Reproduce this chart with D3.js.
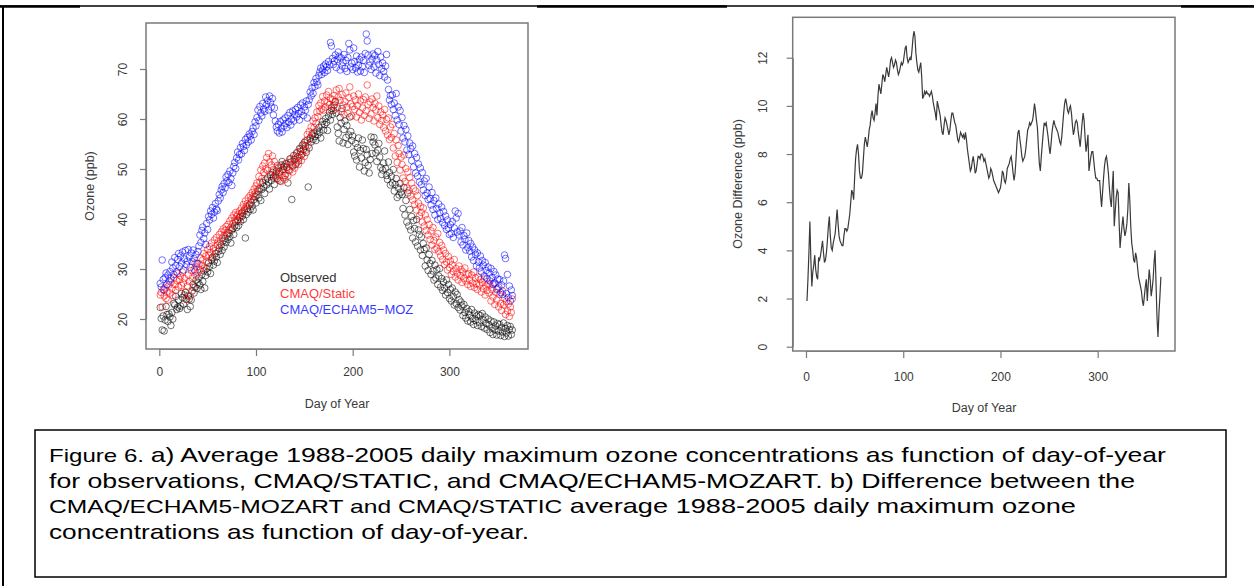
<!DOCTYPE html>
<html>
<head>
<meta charset="utf-8">
<script src="https://cdn.jsdelivr.net/npm/d3@7"></script>
<style>
body { margin: 0; background: #fff; }
svg text { font-family: "Liberation Sans", Arial, sans-serif; }
</style>
</head>
<body>
<div id="fig"></div>
<script>
// daily values, day 1..365
var observed = [
  22.3, 20.1, 17.8, 20.6, 17.6, 19.8, 22.5, 20.9, 19.5, 21.0,
  20.4, 18.7, 21.3, 20.0, 23.1, 22.8, 24.5, 21.9, 22.4, 23.8,
  22.1, 22.6, 25.1, 24.3, 23.0, 24.8, 25.3, 23.9, 21.9, 24.6,
  24.0, 22.5, 23.8, 25.6, 26.9, 25.2, 26.4, 27.8, 26.1, 27.3,
  28.2, 26.8, 25.9, 28.9, 27.5, 29.6, 26.2, 28.7, 30.1, 29.4,
  31.2, 30.5, 29.1, 31.8, 32.3, 30.8, 31.6, 33.1, 32.4, 31.3,
  33.5, 34.2, 32.9, 34.8, 33.7, 35.6, 34.4, 36.1, 35.3, 36.8,
  35.9, 37.2, 36.5, 35.2, 37.8, 38.1, 36.9, 38.6, 39.4, 38.3,
  39.8, 38.7, 40.3, 39.5, 41.2, 40.6, 39.9, 41.6, 36.2, 40.9,
  42.1, 41.4, 42.8, 41.9, 43.3, 42.6, 41.8, 43.9, 44.5, 43.2,
  44.8, 45.6, 44.2, 46.1, 43.7, 45.9, 47.3, 46.5, 45.1, 47.8,
  46.8, 48.2, 47.4, 46.0, 48.9, 47.7, 49.3, 48.4, 46.9, 48.8,
  49.6, 48.1, 50.2, 49.4, 47.6, 50.8, 51.5, 49.9, 50.5, 48.7,
  51.1, 50.3, 47.2, 49.8, 52.0, 51.4, 43.9, 50.6, 52.7, 51.9,
  50.9, 53.2, 52.4, 51.6, 54.1, 53.5, 52.8, 54.8, 53.9, 55.3,
  54.6, 53.3, 55.8, 46.4, 54.2, 56.1, 55.4, 56.8, 55.9, 57.2,
  56.5, 55.7, 57.6, 56.9, 58.3, 57.4, 56.2, 58.8, 59.5, 57.8,
  58.9, 60.1, 59.3, 57.7, 60.6, 61.4, 59.8, 62.2, 60.9, 61.7,
  62.8, 63.5, 61.2, 58.4, 57.1, 55.6, 60.3, 59.2, 62.1, 55.2,
  57.9, 59.6, 56.3, 58.7, 54.9, 56.8, 60.4, 57.5, 55.7, 56.6,
  53.4, 52.6, 55.1, 51.8, 54.3, 56.2, 50.4, 53.7, 52.2, 55.8,
  54.1, 49.6, 51.3, 53.9, 52.8, 50.7, 49.2, 51.9, 56.4, 53.1,
  55.4, 56.3, 54.8, 53.2, 51.5, 53.8, 55.1, 52.4, 50.3, 48.9,
  49.8, 51.2, 53.6, 50.1, 48.7, 47.9, 51.4, 49.3, 46.8, 48.5,
  47.2, 49.9, 45.6, 46.9, 48.1, 44.3, 46.2, 44.8, 47.1, 45.4,
  44.9, 42.1, 46.3, 40.8, 43.7, 39.4, 45.2, 38.6, 41.9, 37.8,
  40.5, 36.2, 39.7, 38.1, 35.4, 39.9, 34.6, 37.8, 36.9, 33.8,
  36.4, 32.7, 35.1, 33.9, 30.6, 34.2, 31.8, 29.7, 32.9, 31.1,
  28.9, 31.7, 29.6, 27.8, 30.8, 28.2, 29.9, 26.9, 28.6, 30.1,
  26.4, 28.1, 25.7, 27.4, 26.2, 24.8, 27.8, 25.3, 26.9, 24.1,
  25.9, 23.6, 26.2, 24.5, 22.8, 25.4, 23.1, 24.9, 22.3, 23.9,
  21.8, 23.4, 22.6, 20.7, 22.9, 21.3, 20.2, 22.1, 19.6, 21.5,
  20.8, 19.4, 21.9, 20.1, 18.9, 21.2, 19.7, 20.6, 18.7, 20.9,
  19.3, 20.7, 18.5, 21.1, 19.8, 18.2, 20.4, 19.1, 17.9, 20.0,
  18.8, 17.3, 19.6, 18.2, 16.9, 19.4, 17.8, 18.6, 16.8, 19.1,
  17.6, 18.9, 16.7, 18.3, 17.4, 19.2, 16.5, 18.1, 17.2, 18.7,
  16.6, 17.9, 18.5, 16.9, 17.8
];

var cmaqStatic = [
  24.8, 25.3, 22.4, 25.9, 24.6, 26.2, 24.1, 25.5, 23.8, 26.8,
  25.2, 27.4, 26.1, 24.7, 28.3, 26.9, 25.8, 27.7, 29.1, 26.4,
  27.9, 28.6, 26.7, 29.4, 27.2, 28.1, 25.4, 23.9, 26.6, 28.8,
  27.5, 24.6, 29.7, 28.2, 26.3, 29.9, 31.2, 28.7, 30.4, 29.3,
  31.0, 29.8, 32.2, 30.7, 31.8, 33.1, 30.2, 32.6, 31.4, 33.9,
  32.8, 34.5, 33.3, 35.2, 32.4, 34.1, 35.8, 33.7, 36.3, 34.8,
  35.5, 36.9, 35.1, 37.4, 36.2, 38.0, 36.7, 37.7, 38.5, 37.2,
  38.9, 37.9, 39.6, 38.3, 40.2, 39.1, 40.8, 39.8, 41.3, 40.5,
  40.9, 39.7, 41.6, 40.5, 42.2, 41.3, 42.9, 41.9, 43.6, 42.5,
  43.1, 44.2, 42.8, 44.7, 43.9, 45.3, 44.5, 46.0, 45.1, 46.6,
  47.2, 46.0, 48.5, 47.4, 49.8, 48.1, 50.6, 49.3, 51.2, 50.0,
  52.3, 49.7, 53.1, 51.4, 48.6, 50.8, 52.6, 49.9, 51.5, 48.4,
  49.2, 50.7, 47.8, 48.9, 50.2, 47.5, 49.6, 48.3, 50.9, 47.9,
  49.1, 50.4, 48.6, 51.3, 49.7, 52.1, 50.8, 49.4, 51.9, 50.2,
  52.6, 51.2, 53.4, 50.9, 52.3, 54.0, 51.7, 53.1, 54.8, 52.5,
  55.6, 53.8, 56.9, 54.7, 57.5, 56.2, 58.4, 57.1, 59.6, 58.3,
  60.2, 59.1, 61.4, 60.5, 62.7, 61.6, 63.2, 62.0, 64.5, 61.8,
  63.6, 62.4, 64.8, 63.3, 65.5, 62.9, 64.1, 61.7, 63.9, 62.6,
  64.7, 63.4, 65.8, 62.2, 64.4, 66.1, 63.7, 61.5, 64.9, 62.8,
  60.9, 63.5, 65.2, 62.4, 61.1, 64.3, 66.4, 63.0, 60.6, 62.5,
  64.6, 61.9, 63.8, 60.4, 62.7, 65.0, 61.3, 63.6, 59.8, 62.2,
  63.9, 60.7, 64.4, 61.6, 66.8, 62.9, 60.1, 63.4, 61.0, 64.0,
  62.3, 59.6, 63.1, 61.8, 64.6, 60.3, 62.6, 58.9, 61.4, 59.7,
  60.8, 58.3, 61.9, 57.6, 59.9, 56.8, 60.2, 55.9, 58.4, 56.3,
  58.9, 54.2, 57.1, 52.6, 55.8, 51.3, 54.7, 53.1, 49.8, 52.4,
  50.9, 48.2, 52.8, 47.5, 50.1, 46.2, 49.4, 45.7, 48.3, 44.6,
  47.2, 43.8, 46.1, 42.9, 45.6, 41.8, 44.7, 43.2, 40.6, 42.5,
  41.3, 39.4, 42.2, 38.6, 40.8, 37.7, 39.9, 36.8, 38.9, 35.9,
  37.6, 34.8, 38.3, 35.7, 33.9, 36.4, 34.2, 37.1, 33.5, 35.3,
  32.6, 34.7, 31.9, 33.8, 30.9, 33.1, 31.4, 29.8, 32.5, 30.3,
  31.6, 28.9, 30.8, 29.5, 31.9, 28.4, 30.1, 29.2, 27.8, 30.6,
  28.7, 29.9, 27.3, 29.4, 28.1, 30.2, 27.6, 28.9, 26.9, 29.1,
  27.8, 26.5, 28.8, 27.2, 29.4, 26.3, 28.2, 27.0, 25.9, 28.4,
  26.8, 27.9, 25.4, 27.3, 26.1, 28.0, 24.8, 26.6, 25.7, 27.1,
  25.2, 26.8, 23.6, 25.9, 24.4, 27.2, 22.9, 25.3, 23.8, 26.1,
  22.4, 24.9, 23.1, 21.7, 25.6, 22.8, 24.2, 20.9, 23.5, 21.6,
  23.0, 20.5, 22.4, 21.3, 24.0
];

var cmaqEcham = [
  27.1, 26.4, 31.8, 27.9, 25.8, 28.3, 29.2, 26.9, 28.8, 27.6,
  29.5, 28.1, 31.4, 30.2, 28.9, 32.3, 30.7, 29.4, 31.9, 33.1,
  30.5, 32.6, 31.2, 33.4, 29.8, 32.0, 33.7, 30.9, 31.6, 33.9,
  32.4, 30.3, 33.2, 31.5, 33.8, 32.1, 29.6, 32.9, 31.1, 33.5,
  34.6, 36.8, 35.3, 37.7, 38.4, 36.1, 37.2, 34.9, 39.1, 37.9,
  40.5, 39.8, 41.6, 40.9, 42.3, 40.2, 41.4, 43.1, 42.0, 41.7,
  43.6, 44.9, 44.2, 45.8, 46.5, 45.3, 47.1, 46.2, 48.4, 47.6,
  48.9, 47.3, 49.6, 48.1, 46.7, 49.2, 50.5, 51.3, 50.1, 52.2,
  53.4, 51.8, 52.9, 54.3, 53.0, 55.1, 54.5, 53.7, 55.9, 54.8,
  56.3, 55.4, 57.0, 56.6, 55.8, 57.5, 58.2, 56.9, 59.4, 58.6,
  60.3, 61.8, 59.7, 62.5, 61.2, 60.6, 63.1, 62.0, 61.5, 64.4,
  62.9, 63.7, 61.8, 64.6, 63.3, 62.4, 64.1, 60.8, 62.2, 59.6,
  58.4, 57.6, 58.9, 57.2, 59.5, 58.1, 57.4, 59.8, 58.6, 60.2,
  59.1, 58.3, 60.7, 59.4, 61.3, 58.8, 60.0, 61.6, 59.6, 60.9,
  61.9, 60.4, 62.3, 61.1, 59.8, 62.8, 61.5, 63.2, 60.7, 62.4,
  61.7, 63.6, 60.2, 62.9, 63.8, 65.4, 64.6, 66.2, 65.1, 67.3,
  66.5, 68.1, 67.4, 66.8, 68.7, 69.4, 70.2, 68.9, 69.8, 70.6,
  69.3, 71.0, 70.4, 69.7, 71.5, 70.8, 75.3, 74.6, 72.1, 70.9,
  71.6, 72.8, 70.3, 71.9, 73.4, 72.5, 69.8, 72.2, 70.6, 71.3,
  72.9, 70.1, 71.7, 69.5, 72.3, 75.1, 73.8, 70.4, 71.2, 69.9,
  74.2, 71.5, 70.2, 72.6, 69.4, 70.8, 71.9, 69.6, 72.4, 70.5,
  71.7, 69.3, 73.1, 77.0, 75.6, 72.8, 70.7, 71.4, 69.9, 72.0,
  73.0, 70.4, 72.7, 69.2, 71.8, 73.5, 70.9, 68.7, 72.4, 70.1,
  71.2, 69.5, 68.4, 70.6, 72.9, 67.8, 65.9, 63.8, 64.7, 62.9,
  64.8, 61.9, 63.2, 60.7, 65.1, 59.8, 62.4, 58.9, 61.7, 57.6,
  60.3, 56.2, 58.7, 55.4, 57.9, 53.8, 56.6, 52.9, 55.2, 54.1,
  51.7, 54.6, 50.4, 53.1, 49.2, 52.3, 48.6, 51.0, 47.4, 50.2,
  46.9, 49.3, 45.8, 47.6, 44.7, 48.1, 45.2, 43.9, 46.4, 44.1,
  42.8, 45.3, 41.9, 43.7, 40.8, 44.2, 42.1, 39.9, 43.0, 41.2,
  40.1, 42.4, 39.3, 41.5, 38.7, 40.6, 37.9, 39.8, 38.2, 36.9,
  38.9, 37.1, 39.5, 36.3, 38.2, 41.6, 40.2, 37.4, 41.1, 36.8,
  37.6, 35.4, 38.3, 34.8, 36.7, 35.9, 33.8, 37.2, 34.3, 35.7,
  33.6, 35.1, 32.4, 34.4, 31.7, 33.8, 32.9, 30.6, 33.2, 31.4,
  30.2, 32.6, 29.4, 31.7, 30.8, 28.6, 31.3, 29.7, 28.1, 30.4,
  29.2, 27.6, 30.1, 28.3, 26.9, 29.5, 27.2, 28.8, 25.9, 28.0,
  26.4, 27.9, 25.3, 26.8, 24.9, 27.6, 32.8, 32.1, 25.1, 28.9,
  24.3, 26.6, 23.6, 25.8, 24.7
];

var ozoneDiff = [
  1.9, 2.8, 3.9, 5.2, 3.6, 2.5, 3.1, 3.4, 3.8, 3.2,
  2.9, 2.8, 3.7, 3.6, 3.8, 4.1, 4.4, 3.9, 3.5, 3.6,
  3.9, 4.4, 5.0, 5.4, 4.6, 4.1, 4.0, 4.3, 4.5, 4.7,
  5.2, 5.7, 5.1, 4.6, 4.4, 4.3, 4.2, 4.2, 4.6, 4.9,
  4.9, 4.8, 4.9, 5.2, 5.5, 6.0, 6.5, 6.4, 6.1, 7.0,
  7.8, 8.2, 8.4, 8.0, 7.3, 7.0, 7.0, 7.2, 7.8, 8.4,
  8.7, 8.5, 8.3, 8.6, 9.0, 9.2, 9.6, 9.8, 9.5, 9.4,
  9.7, 10.1, 9.6, 10.4, 10.9, 10.7, 10.5, 10.9, 11.3, 11.2,
  11.0, 11.3, 11.6, 11.4, 11.2, 11.5, 11.9, 12.0, 11.8, 11.6,
  11.7, 11.9, 11.8, 11.5, 11.3, 11.4, 11.6, 11.8, 11.7, 11.8,
  12.1, 12.4, 12.5, 12.0, 11.8, 11.9, 12.0, 11.9, 12.3, 12.8,
  13.1, 12.9, 12.2, 11.8, 11.5, 11.4, 11.6, 11.8, 11.2, 10.3,
  10.4, 10.6, 10.5, 10.6, 10.5, 10.5, 10.4, 10.5, 10.6, 10.4,
  10.1, 9.9, 9.7, 9.4, 10.2, 10.0, 9.8, 9.6, 9.2, 8.9,
  8.8, 9.2, 9.5, 9.4, 9.2, 9.0, 8.8, 9.0, 9.4, 9.7,
  9.7, 9.5, 9.3, 9.2, 8.9, 8.6, 8.5, 8.7, 8.9, 8.8,
  8.7, 8.8, 8.6, 8.9, 8.6, 8.2, 7.9, 7.6, 7.3, 7.4,
  7.7, 7.9, 7.6, 7.2, 7.3, 7.6, 7.9, 7.9, 7.8, 8.0,
  8.0, 7.9, 7.7, 7.8, 7.6, 7.4, 7.2, 7.0, 7.1, 7.4,
  7.3, 7.1, 6.9, 6.8, 6.7, 6.6, 6.5, 6.4, 6.5, 6.6,
  6.9, 7.3, 7.2, 6.9, 6.8, 7.0, 7.4, 7.5, 7.6, 7.8,
  7.9, 7.6, 7.2, 6.9, 7.2, 7.8, 8.5, 8.9, 9.0, 8.6,
  8.3, 7.9, 7.7, 7.8, 7.9, 8.2, 8.6, 9.0, 9.1, 9.3,
  9.2, 9.3, 9.4, 9.7, 10.1, 9.8, 9.4, 9.1, 8.3, 7.6,
  7.3, 7.9, 8.4, 8.9, 9.3, 9.2, 9.3, 9.0, 8.7, 8.3,
  8.0, 8.4, 8.9, 9.2, 9.4, 9.2, 9.1, 9.0, 8.9, 8.7,
  8.5, 8.4, 8.7, 9.2, 9.7, 10.1, 10.3, 10.1, 9.8, 9.7,
  9.9, 10.0, 9.7, 9.2, 8.8, 9.0, 9.3, 9.4, 9.3, 8.9,
  8.6, 8.3, 8.8, 9.3, 9.7, 9.4, 8.7, 8.1, 8.4, 8.8,
  7.3, 7.6, 7.9, 8.1, 8.1, 7.7, 7.3, 7.0, 7.0, 6.9,
  6.9, 6.9, 6.3, 5.8, 6.4, 7.0, 7.5, 7.8, 7.9, 7.6,
  7.2, 6.6, 6.1, 5.8, 6.6, 7.3, 5.0, 5.6, 6.2, 6.5,
  6.4, 5.2, 4.1, 4.6, 5.0, 5.4, 4.9, 4.6, 4.8, 5.1,
  5.7, 6.8, 6.1, 5.0, 4.3, 4.0, 3.6, 3.5, 3.9, 3.7,
  3.3, 2.9, 2.7, 2.5, 2.3, 1.9, 1.7, 2.1, 2.5, 2.8,
  1.9, 2.6, 3.2, 2.8, 2.1, 2.4, 2.8, 3.5, 4.0, 2.6,
  1.2, 0.4, 1.4, 2.1, 2.9
];

var dayTicks = [0, 100, 200, 300];
var ozoneTicks = [20, 30, 40, 50, 60, 70];
var diffTicks = [0, 2, 4, 6, 8, 10, 12];
var legendLabels = ["Observed", "CMAQ/Static", "CMAQ/ECHAM5\u2212MOZ"];
var seriesColors = ["#000000", "#ff0000", "#0000ff"];
var captionLines = [
  [["Figure 6. ", 19], ["a) Average 1988-2005 daily maximum ozone concentrations as function of day-of-year", 21]],
  [["for observations, CMAQ/STATIC, and CMAQ/ECHAM5-MOZART. b) Difference between the", 21]],
  [["CMAQ/ECHAM5-MOZART", 19], [" and ", 19], ["CMAQ/STATIC", 19], [" average 1988-2005 daily maximum ozone", 21]],
  [["concentrations as function of day-of-year.", 21]]
];
var captionWidths = [1117, 1086, 1027, 480];

var W = 1254, H = 586;
var svg = d3.select("#fig").append("svg")
    .attr("width", W)
    .attr("height", H);

var grey = "#7a7a7a", textCol = "#3a3a3a";

// page frame
svg.append("line").attr("x1", 0).attr("x2", W).attr("y1", 6).attr("y2", 6)
    .attr("stroke", "#000").attr("stroke-width", 1.5);
[[0, 80], [537, 727], [1181, 1254]].forEach(function(s) {
    svg.append("line").attr("x1", s[0]).attr("x2", s[1]).attr("y1", 6.5).attr("y2", 6.5)
        .attr("stroke", "#000").attr("stroke-width", 2.5);
});
svg.append("line").attr("x1", 3).attr("x2", 3).attr("y1", 6).attr("y2", H)
    .attr("stroke", "#000").attr("stroke-width", 2);

function styleAxis(g) {
    g.selectAll("path.domain").attr("stroke", grey).attr("stroke-width", 1.2);
    g.selectAll(".tick line").attr("stroke", grey).attr("stroke-width", 1.2);
    g.selectAll(".tick text").attr("fill", textCol).style("font-size", "12px")
        .style("font-family", "'Liberation Sans', Arial, sans-serif");
}

// ---------- panel a: scatter ----------
var a = { left: 146, right: 528, top: 23, bottom: 349 };
var xa = d3.scaleLinear().domain([0, 300]).range([159.3, 449.4]);
var ya = d3.scaleLinear().domain([20, 70]).range([319, 69]);

svg.append("rect")
    .attr("x", a.left).attr("y", a.top)
    .attr("width", a.right - a.left).attr("height", a.bottom - a.top)
    .attr("fill", "none").attr("stroke", grey).attr("stroke-width", 1.5);

var gxa = svg.append("g")
    .attr("transform", "translate(0," + a.bottom + ")")
    .call(d3.axisBottom(xa).tickValues(dayTicks).tickSize(7).tickSizeOuter(0).tickPadding(11));
styleAxis(gxa);

var gya = svg.append("g")
    .attr("transform", "translate(" + a.left + ",0)")
    .call(d3.axisLeft(ya).tickValues(ozoneTicks).tickSize(6).tickSizeOuter(0));
styleAxis(gya);
gya.selectAll(".tick text")
    .attr("transform", "rotate(-90)")
    .attr("x", 0).attr("y", -19).attr("dy", 0)
    .attr("text-anchor", "middle");

[observed, cmaqStatic, cmaqEcham].forEach(function(series, k) {
    svg.append("g").selectAll("circle")
        .data(series)
        .enter().append("circle")
        .attr("cx", function(d, i) { return xa(i + 1); })
        .attr("cy", function(d) { return ya(d); })
        .attr("r", 3.3)
        .attr("fill", "none")
        .attr("stroke", seriesColors[k])
        .attr("stroke-opacity", 0.55)
        .attr("stroke-width", 1);
});

svg.append("g").selectAll("text")
    .data(legendLabels)
    .enter().append("text")
    .attr("x", 280)
    .attr("y", function(d, i) { return 282 + i * 16; })
    .attr("fill", function(d, i) { return i === 0 ? "#333" : seriesColors[i]; })
    .attr("fill-opacity", function(d, i) { return i === 0 ? 1 : 0.8; })
    .style("font-size", "13px")
    .text(function(d) { return d; });

svg.append("text")
    .attr("x", 337).attr("y", 408)
    .attr("text-anchor", "middle").attr("fill", textCol)
    .style("font-size", "12.5px")
    .text("Day of Year");

svg.append("text")
    .attr("transform", "translate(94,186) rotate(-90)")
    .attr("text-anchor", "middle").attr("fill", textCol)
    .style("font-size", "12.5px")
    .text("Ozone (ppb)");

// ---------- panel b: difference line ----------
var b = { left: 792.7, right: 1175, top: 17.3, bottom: 351 };
var xb = d3.scaleLinear().domain([0, 300]).range([806, 1097.7]);
var yb = d3.scaleLinear().domain([0, 12]).range([346.7, 57.7]);

svg.append("rect")
    .attr("x", b.left).attr("y", b.top)
    .attr("width", b.right - b.left).attr("height", b.bottom - b.top)
    .attr("fill", "none").attr("stroke", grey).attr("stroke-width", 1.5);

var gxb = svg.append("g")
    .attr("transform", "translate(0," + b.bottom + ")")
    .call(d3.axisBottom(xb).tickValues(dayTicks).tickSize(7).tickSizeOuter(0).tickPadding(14));
styleAxis(gxb);

var gyb = svg.append("g")
    .attr("transform", "translate(" + b.left + ",0)")
    .call(d3.axisLeft(yb).tickValues(diffTicks).tickSize(6).tickSizeOuter(0));
styleAxis(gyb);
gyb.selectAll(".tick text")
    .attr("transform", "rotate(-90)")
    .attr("x", 0).attr("y", -26).attr("dy", 0)
    .attr("text-anchor", "middle");

var line = d3.line()
    .x(function(d, i) { return xb(i + 1); })
    .y(function(d) { return yb(d); });

svg.append("path")
    .datum(ozoneDiff)
    .attr("d", line)
    .attr("fill", "none")
    .attr("stroke", "#3a3a3a")
    .attr("stroke-width", 1.2);

svg.append("text")
    .attr("x", 984).attr("y", 412)
    .attr("text-anchor", "middle").attr("fill", textCol)
    .style("font-size", "12.5px")
    .text("Day of Year");

svg.append("text")
    .attr("transform", "translate(742,184) rotate(-90)")
    .attr("text-anchor", "middle").attr("fill", textCol)
    .style("font-size", "12.5px")
    .text("Ozone Difference (ppb)");

// ---------- caption ----------
svg.append("rect")
    .attr("x", 35).attr("y", 430)
    .attr("width", 1191).attr("height", 147)
    .attr("fill", "none").attr("stroke", "#000").attr("stroke-width", 1.5);

captionLines.forEach(function(parts, i) {
    var t = svg.append("text")
        .attr("x", 49)
        .attr("y", 462 + i * 25.5)
        .attr("fill", "#000")
        .attr("textLength", captionWidths[i])
        .attr("lengthAdjust", "spacingAndGlyphs");
    parts.forEach(function(p) {
        t.append("tspan").style("font-size", p[1] + "px").text(p[0]);
    });
});
</script>
</body>
</html>
